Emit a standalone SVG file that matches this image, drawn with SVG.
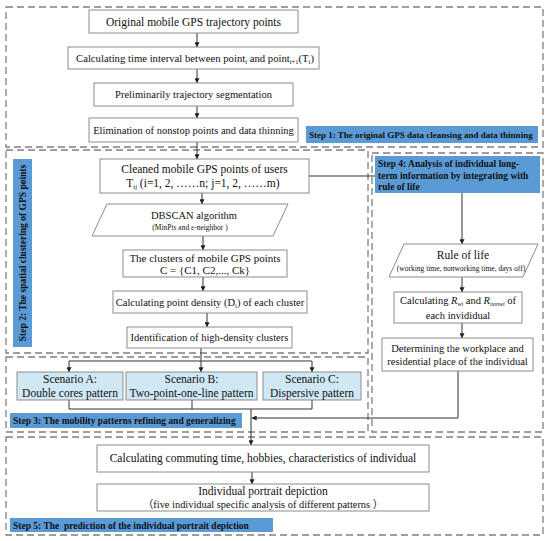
<svg xmlns="http://www.w3.org/2000/svg" width="550" height="541" viewBox="0 0 550 541">
<style>
.bg{fill:#fff}
.dash{fill:none;stroke:#7f7f7f;stroke-width:1.3;stroke-dasharray:7,4}
.box{fill:#fff;stroke:#8c8c8c;stroke-width:1}
.scn{fill:#cfe8f3;stroke:#8c8c8c;stroke-width:1}
.lbl{fill:#5b9bd5}
.t{font-family:"Liberation Serif","Times New Roman",serif;font-size:10.5px;fill:#111;text-anchor:middle}
.t115{font-size:11.5px}
.t11{font-size:11px}
.t107{font-size:10.7px}
.s{font-family:"Liberation Serif","Times New Roman",serif;font-size:7.5px;fill:#111;text-anchor:middle}
.b{font-family:"Liberation Serif","Times New Roman",serif;font-size:9.5px;font-weight:bold;fill:#111}
.b9{font-size:9px}
.cjk{font-family:"Liberation Serif","Noto Sans CJK SC",serif;font-size:10.4px}
.sub{font-size:6.5px}
.ln{fill:none;stroke:#333;stroke-width:1}
.ar{fill:none;stroke:#333;stroke-width:1;marker-end:url(#ah)}
</style>
<defs>
<marker id="ah" viewBox="0 0 8 8" refX="7.5" refY="4" markerWidth="5" markerHeight="5" orient="auto" markerUnits="userSpaceOnUse">
<path d="M0,0 L8,4 L0,8 z" fill="#222"/>
</marker>
</defs>
<rect class="bg" x="0" y="0" width="550" height="541"/>

<g id="groups">
<rect id="step1-frame" class="dash" x="6" y="7" width="537" height="140"/>
<rect id="step2-frame" class="dash" x="6" y="150" width="362" height="203"/>
<rect id="step3-frame" class="dash" x="6" y="357" width="362" height="75"/>
<rect id="step4-frame" class="dash" x="372" y="153" width="171" height="279"/>
<rect id="step5-frame" class="dash" x="6" y="437" width="537" height="98"/>
</g>

<g id="connectors">
<path class="ar" d="M197,33 V47"/>
<path class="ar" d="M197,69 V83"/>
<path class="ar" d="M197,106 V118"/>
<path class="ar" d="M197,142 V159"/>
<path class="ar" d="M202,193 V204"/>
<path class="ar" d="M203,236 V250"/>
<path class="ar" d="M203,277 V291"/>
<path class="ar" d="M207,313 V327"/>
<path class="ar" d="M201,348 V372"/>
<path class="ln" d="M69,361 H312"/>
<path class="ar" d="M69,361 V372"/>
<path class="ar" d="M312,361 V372"/>
<path class="ln" d="M69,400 V409 H312 V400 M192,400 V409"/>
<path class="ar" d="M251,409 V445"/>
<path class="ar" d="M252,472 V484"/>
<path class="ln" d="M309,176 H375"/>
<path class="ar" d="M462,193 V244"/>
<path class="ar" d="M462,277 V292"/>
<path class="ar" d="M462,323 V338"/>
<path class="ar" d="M458,371 V418 H252"/>
</g>

<g id="n1"><rect class="box" x="89" y="10" width="209" height="23"/><text class="t t115" x="193.5" y="25.5">Original mobile GPS trajectory points</text></g>
<g id="n2"><rect class="box" x="68" y="47" width="251" height="22"/><text class="t t107" x="195" y="61.5">Calculating time interval between point<tspan class="sub" dy="2">i</tspan><tspan dy="-2"> and point</tspan><tspan class="sub" dy="2">i+1</tspan><tspan dy="-2">(T</tspan><tspan class="sub" dy="2">i</tspan><tspan dy="-2">)</tspan></text></g>
<g id="n3"><rect class="box" x="94" y="83" width="199" height="23"/><text class="t" x="193.5" y="98">Preliminarily trajectory segmentation</text></g>
<g id="n4"><rect class="box" x="89" y="118" width="209" height="24"/><text class="t" x="193.5" y="133.5">Elimination of nonstop points and data thinning</text></g>
<g id="step1-label"><rect class="lbl" x="306" y="126" width="232" height="17"/><text class="b b9" x="309" y="137.5">Step 1: The original GPS data cleansing and data thinning</text></g>

<g id="step2-label"><rect class="lbl" x="13" y="159" width="19" height="188"/><text class="b" transform="translate(26,253) rotate(-90)" text-anchor="middle">Step 2: The spatial clustering of GPS points</text></g>
<g id="n5"><rect class="box" x="100" y="159" width="209" height="34"/><text class="t t115" x="204.5" y="173">Cleaned mobile GPS points of users</text><text class="t t115" x="203" y="186.5">T<tspan class="sub" dy="2">ij</tspan><tspan dy="-2"> (i=1, 2, ……n; j=1, 2, ……m)</tspan></text></g>
<g id="n6"><path class="box" d="M107,204 H288 L273,236 H92 Z"/><text class="t" x="194" y="218.5">DBSCAN algorithm</text><text class="s" x="190" y="230">(MinPts and ε-neighbor )</text></g>
<g id="n7"><rect class="box" x="123" y="250" width="164" height="27"/><text class="t t11" x="205" y="261.5">The clusters of mobile GPS points</text><text class="t t11" x="205" y="274">C = {C1, C2,..., Ck}</text></g>
<g id="n8"><rect class="box" x="113" y="291" width="194" height="22"/><text class="t" x="210" y="305.5">Calculating point density (D<tspan class="sub" dy="2">i</tspan><tspan dy="-2">) of each cluster</tspan></text></g>
<g id="n9"><rect class="box" x="127" y="327" width="165" height="21"/><text class="t" x="209.5" y="341">Identification of high-density clusters</text></g>

<g id="sA"><rect class="scn" x="17" y="372" width="106" height="28"/><text class="t t115" x="70" y="382.5">Scenario A:</text><text class="t t115" x="70" y="396.5">Double cores pattern</text></g>
<g id="sB"><rect class="scn" x="126" y="372" width="131" height="28"/><text class="t t115" x="191.5" y="382.5">Scenario B:</text><text class="t t115" x="191.5" y="396.5">Two-point-one-line pattern</text></g>
<g id="sC"><rect class="scn" x="263" y="372" width="98" height="28"/><text class="t t115" x="312" y="382.5">Scenario C:</text><text class="t t115" x="312" y="396.5">Dispersive pattern</text></g>
<g id="step3-label"><rect class="lbl" x="10" y="413" width="232" height="15"/><text class="b" x="13" y="424">Step 3: The mobility patterns refining and generalizing</text></g>

<g id="step4-label"><rect class="lbl" x="375" y="156" width="165" height="37"/><text class="b" x="378" y="167">Step 4: Analysis of individual long-</text><text class="b" x="378" y="178.5">term information by integrating with</text><text class="b" x="378" y="190">rule of life</text></g>
<g id="n10"><path class="box" d="M404,244 H538 L523,277 H389 Z"/><text class="t t115" x="463" y="259">Rule of life</text><text class="s" x="461" y="271">(working time, nonworking time, days off)</text></g>
<g id="n11"><rect class="box" x="394" y="292" width="128" height="31"/><text class="t" x="458" y="304">Calculating <tspan font-style="italic">R</tspan><tspan font-size="6" font-style="italic" dy="1.5">wi</tspan><tspan dy="-1.5"> and </tspan><tspan font-style="italic">R</tspan><tspan font-size="6" font-style="italic" dy="1.5">nonwi</tspan><tspan dy="-1.5"> of</tspan></text><text class="t" x="458" y="318.5">each invididual</text></g>
<g id="n12"><rect class="box" x="382" y="338" width="151" height="33"/><text class="t" x="457.5" y="351.5">Determining the workplace and</text><text class="t" x="457.5" y="365">residential place of the individual</text></g>

<g id="n13"><rect class="box" x="97" y="445" width="332" height="27"/><text class="t t115" x="263" y="462">Calculating commuting time, hobbies, characteristics of individual</text></g>
<g id="n14"><rect class="box" x="97" y="484" width="332" height="27"/><text class="t t115" x="263" y="495">Individual portrait depiction</text><text class="t cjk" x="263" y="508">（five individual specific analysis of different patterns ）</text></g>
<g id="step5-label"><rect class="lbl" x="10" y="518" width="263" height="14"/><text class="b" x="13" y="528.5" xml:space="preserve">Step 5: The  prediction of the individual portrait depiction</text></g>
</svg>
